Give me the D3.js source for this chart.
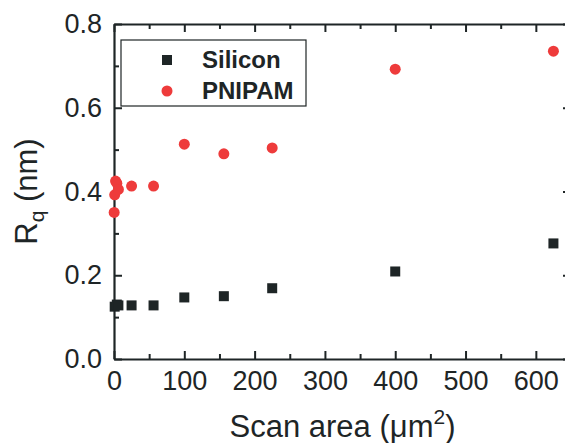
<!DOCTYPE html>
<html>
<head>
<meta charset="utf-8">
<script src="https://cdn.jsdelivr.net/npm/d3@7"></script>
<style>
  body { margin: 0; background: #fff; }
  text { font-family: Arial, "Liberation Sans", sans-serif; fill: #1e2526; }
</style>
</head>
<body>
<svg id="chart"></svg>
<script>
var siliconX = [1, 4, 6.25, 25, 56.25, 100, 156.25, 225, 400, 625];
var siliconY = [0.125, 0.13, 0.128, 0.128, 0.128, 0.147, 0.150, 0.169, 0.209, 0.276];
var pnipamX = [0.25, 1, 2.25, 4, 6.25, 25, 56.25, 100, 156.25, 225, 400, 625];
var pnipamY = [0.350, 0.392, 0.425, 0.420, 0.405, 0.413, 0.413, 0.513, 0.490, 0.504, 0.692, 0.735];
var xTicks = [0, 100, 200, 300, 400, 500, 600];
var yTicks = [0.0, 0.2, 0.4, 0.6, 0.8];
var legendNames = ["Silicon", "PNIPAM"];

(function () {
  var svgW = 565, svgH = 443;
  var mLeft = 114, mTop = 24, w = 457, h = 335; // plot frame
  var axisCol = "#1e2526";
  var redCol = "#ee3b3b";

  var svg = d3.select("#chart").attr("width", svgW).attr("height", svgH);

  var x = d3.scaleLinear().domain([0, 650]).range([mLeft, mLeft + w]);
  var y = d3.scaleLinear().domain([0, 0.8]).range([mTop + h, mTop]);

  var minorX = d3.range(50, 650, 100);
  var minorY = d3.range(0.1, 0.8, 0.2);

  // axes, ticks pointing inward
  function drawAxis(axis, pos, ticks, minor, showLabels, fmt) {
    var g = svg.append("g").attr("transform", pos);
    g.call(axis.tickValues(ticks).tickSizeInner(-8).tickSizeOuter(0).tickPadding(12)
      .tickFormat(showLabels ? fmt : ""));
    g.select(".domain").attr("stroke", axisCol).attr("stroke-width", 2.2);
    g.selectAll(".tick line").attr("stroke", axisCol).attr("stroke-width", 2);
    g.selectAll(".tick text").attr("font-size", 27).attr("fill", axisCol)
      .style("font-family", "Arial, 'Liberation Sans', sans-serif");
    var m = svg.append("g").attr("transform", pos);
    m.call(axis.tickValues(minor).tickSizeInner(-5).tickFormat(""));
    m.select(".domain").remove();
    m.selectAll(".tick line").attr("stroke", axisCol).attr("stroke-width", 2);
    return g;
  }

  drawAxis(d3.axisBottom(x), "translate(0," + (mTop + h) + ")", xTicks, minorX, true, d3.format("d"));
  drawAxis(d3.axisTop(x), "translate(0," + mTop + ")", xTicks, minorX, false);
  drawAxis(d3.axisLeft(y), "translate(" + mLeft + ",0)", yTicks, minorY, true, d3.format(".1f"));
  drawAxis(d3.axisRight(y), "translate(" + (mLeft + w) + ",0)", yTicks, minorY, false);

  // data
  var sil = siliconX.map(function (d, i) { return { x: d, y: siliconY[i] }; });
  var pni = pnipamX.map(function (d, i) { return { x: d, y: pnipamY[i] }; });

  svg.append("g").selectAll("rect").data(sil).enter().append("rect")
    .attr("x", function (d) { return x(d.x) - 5; })
    .attr("y", function (d) { return y(d.y) - 5; })
    .attr("width", 10).attr("height", 10)
    .attr("fill", axisCol);

  svg.append("g").selectAll("circle").data(pni).enter().append("circle")
    .attr("cx", function (d) { return x(d.x); })
    .attr("cy", function (d) { return y(d.y); })
    .attr("r", 5.5)
    .attr("fill", redCol);

  // legend
  svg.append("rect")
    .attr("x", 121).attr("y", 40).attr("width", 185).attr("height", 66)
    .attr("fill", "#fff").attr("stroke", axisCol).attr("stroke-width", 1.2);
  svg.append("rect").attr("x", 162).attr("y", 55).attr("width", 10).attr("height", 10).attr("fill", axisCol);
  svg.append("circle").attr("cx", 167).attr("cy", 91).attr("r", 5.5).attr("fill", redCol);
  svg.selectAll(".leg").data(legendNames).enter().append("text")
    .attr("x", 202).attr("y", function (d, i) { return 68 + i * 31; })
    .attr("font-size", 24).attr("font-weight", "bold")
    .text(function (d) { return d; });

  // axis titles
  var xt = svg.append("text")
    .attr("x", x(325)).attr("y", 437)
    .attr("text-anchor", "middle").attr("font-size", 31);
  xt.append("tspan").text("Scan area (\u03bcm");
  xt.append("tspan").attr("font-size", 21).attr("dy", -13).text("2");
  xt.append("tspan").attr("dy", 13).text(")");

  var yt = svg.append("text")
    .attr("transform", "translate(37," + (mTop + h / 2) + ") rotate(-90)")
    .attr("text-anchor", "middle").attr("font-size", 31);
  yt.append("tspan").text("R");
  yt.append("tspan").attr("font-size", 21).attr("dy", 7).text("q");
  yt.append("tspan").attr("dy", -7).text(" (nm)");
}());
</script>
</body>
</html>
